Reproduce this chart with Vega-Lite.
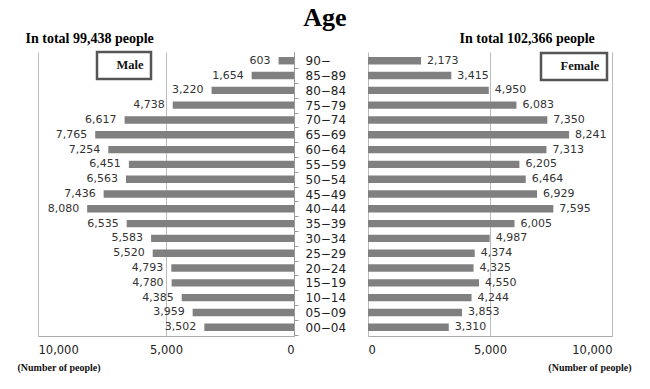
{
  "$schema": "https://vega.github.io/schema/vega-lite/v6.json",
  "width": 650,
  "height": 284,
  "autosize": {"type": "none"},
  "padding": {"top": 52, "left": 0, "right": 0, "bottom": 53},
  "background": "white",
  "title": {
    "text": "Age",
    "font": "Liberation Serif",
    "fontSize": 26,
    "fontWeight": "bold",
    "color": "#000",
    "anchor": "middle",
    "frame": "group",
    "baseline": "alphabetic",
    "offset": 0,
    "dy": 21
  },
  "config": {
    "view": {"stroke": null},
    "legend": {
      "title": null,
      "orient": "none",
      "padding": 7,
      "strokeColor": "#555555",
      "strokeWidth": 2.5,
      "fillColor": "white",
      "symbolSize": 0,
      "symbolOpacity": 0,
      "symbolStrokeWidth": 0,
      "labelAlign": "left",
      "labelOffset": 0,
      "labelFont": "Liberation Serif",
      "labelFontWeight": "bold",
      "labelFontSize": 12.5,
      "labelColor": "#111"
    }
  },
  "data": {
    "values": [
      {"age": "90−", "male": 603, "female": 2173},
      {"age": "85−89", "male": 1654, "female": 3415},
      {"age": "80−84", "male": 3220, "female": 4950},
      {"age": "75−79", "male": 4738, "female": 6083},
      {"age": "70−74", "male": 6617, "female": 7350},
      {"age": "65−69", "male": 7765, "female": 8241},
      {"age": "60−64", "male": 7254, "female": 7313},
      {"age": "55−59", "male": 6451, "female": 6205},
      {"age": "50−54", "male": 6563, "female": 6464},
      {"age": "45−49", "male": 7436, "female": 6929},
      {"age": "40−44", "male": 8080, "female": 7595},
      {"age": "35−39", "male": 6535, "female": 6005},
      {"age": "30−34", "male": 5583, "female": 4987},
      {"age": "25−29", "male": 5520, "female": 4374},
      {"age": "20−24", "male": 4793, "female": 4325},
      {"age": "15−19", "male": 4780, "female": 4550},
      {"age": "10−14", "male": 4385, "female": 4244},
      {"age": "05−09", "male": 3959, "female": 3853},
      {"age": "00−04", "male": 3502, "female": 3310}
    ]
  },
  "resolve": {
    "scale": {"x": "independent", "color": "independent"},
    "axis": {"x": "independent", "y": "independent"},
    "legend": {"color": "independent"}
  },
  "layer": [
    {
      "resolve": {"axis": {"x": "independent", "y": "independent"}},
      "layer": [
        {
          "mark": {"type": "bar"},
          "encoding": {
            "y": {
              "field": "age", "type": "nominal", "sort": null,
              "scale": {"paddingInner": 0.5, "paddingOuter": 0.34},
              "axis": {
                "orient": "right", "offset": -356, "title": null,
                "labelFont": "DejaVu Sans", "labelFontSize": 12, "labelColor": "#222",
                "labelPadding": 7, "tickSize": 4, "tickOffset": 7.4, "labelOffset": -7.4,
                "tickColor": "#999", "domainColor": "#999", "grid": false
              }
            },
            "x": {
              "field": "male", "type": "quantitative",
              "scale": {"domain": [0, 10000], "range": [294, 38], "nice": false, "zero": true},
              "axis": {
                "orient": "bottom", "values": [0, 5000, 10000],
                "labelExpr": "format(datum.value, ',')",
                "labelFont": "DejaVu Sans", "labelFontSize": 11.5, "labelColor": "#222",
                "labelPadding": 8, "ticks": false,
                "grid": true, "gridColor": "#bbbbbb", "domainColor": "#aaaaaa",
                "title": "(Number of people)", "titleFont": "Liberation Serif",
                "titleFontSize": 10, "titleFontWeight": "bold", "titleColor": "#111",
                "titleX": 17, "titleY": 31, "titleAlign": "left", "titleBaseline": "middle", "titleAnchor": null
              }
            },
            "color": {
              "datum": "Male", "type": "nominal",
              "scale": {"range": ["#808080"]},
              "legend": {"legendX": 97, "legendY": 0, "labelExpr": "'\u00a0\u00a0\u00a0\u00a0\u00a0\u00a0' + datum.label + '\u00a0\u00a0\u00a0\u00a0\u00a0\u00a0'"}
            }
          }
        },
        {
          "mark": {"type": "text", "align": "right", "baseline": "middle", "dx": -8,
                   "font": "DejaVu Sans", "fontSize": 11, "color": "#333"},
          "encoding": {
            "y": {"field": "age", "type": "nominal", "sort": null, "axis": null},
            "x": {
              "field": "male", "type": "quantitative",
              "axis": {
                "orient": "top", "labels": false, "ticks": false, "domain": false, "grid": false,
                "title": "In total 99,438 people", "titleFont": "Liberation Serif",
                "titleFontSize": 14, "titleFontWeight": "bold", "titleColor": "#000",
                "titleX": 25, "titleY": -10, "titleAlign": "left", "titleBaseline": "alphabetic", "titleAnchor": null
              }
            },
            "text": {"field": "male", "type": "quantitative", "format": ","}
          }
        }
      ]
    },
    {
      "resolve": {"axis": {"x": "independent", "y": "independent"}},
      "layer": [
        {
          "mark": {"type": "bar"},
          "encoding": {
            "y": {"field": "age", "type": "nominal", "sort": null, "axis": null},
            "x": {
              "field": "female", "type": "quantitative",
              "scale": {"domain": [0, 10000], "range": [368, 612], "nice": false, "zero": true},
              "axis": {
                "orient": "bottom", "values": [0, 5000, 10000],
                "labelExpr": "format(datum.value, ',')",
                "labelFont": "DejaVu Sans", "labelFontSize": 11.5, "labelColor": "#222",
                "labelPadding": 8, "ticks": false,
                "grid": true, "gridColor": "#bbbbbb", "domainColor": "#aaaaaa",
                "title": "(Number of people)", "titleFont": "Liberation Serif",
                "titleFontSize": 10, "titleFontWeight": "bold", "titleColor": "#111",
                "titleX": 631, "titleY": 31, "titleAlign": "right", "titleBaseline": "middle", "titleAnchor": null
              }
            },
            "color": {
              "datum": "Female", "type": "nominal",
              "scale": {"range": ["#808080"]},
              "legend": {"legendX": 541, "legendY": 1, "labelExpr": "'\u00a0\u00a0' + datum.label + '\u00a0\u00a0'"}
            }
          }
        },
        {
          "mark": {"type": "text", "align": "left", "baseline": "middle", "dx": 6,
                   "font": "DejaVu Sans", "fontSize": 11, "color": "#333"},
          "encoding": {
            "y": {"field": "age", "type": "nominal", "sort": null, "axis": null},
            "x": {
              "field": "female", "type": "quantitative",
              "axis": {
                "orient": "top", "labels": false, "ticks": false, "domain": false, "grid": false,
                "title": "In total 102,366 people", "titleFont": "Liberation Serif",
                "titleFontSize": 14, "titleFontWeight": "bold", "titleColor": "#000",
                "titleX": 459, "titleY": -10, "titleAlign": "left", "titleBaseline": "alphabetic", "titleAnchor": null
              }
            },
            "text": {"field": "female", "type": "quantitative", "format": ","}
          }
        }
      ]
    }
  ]
}
